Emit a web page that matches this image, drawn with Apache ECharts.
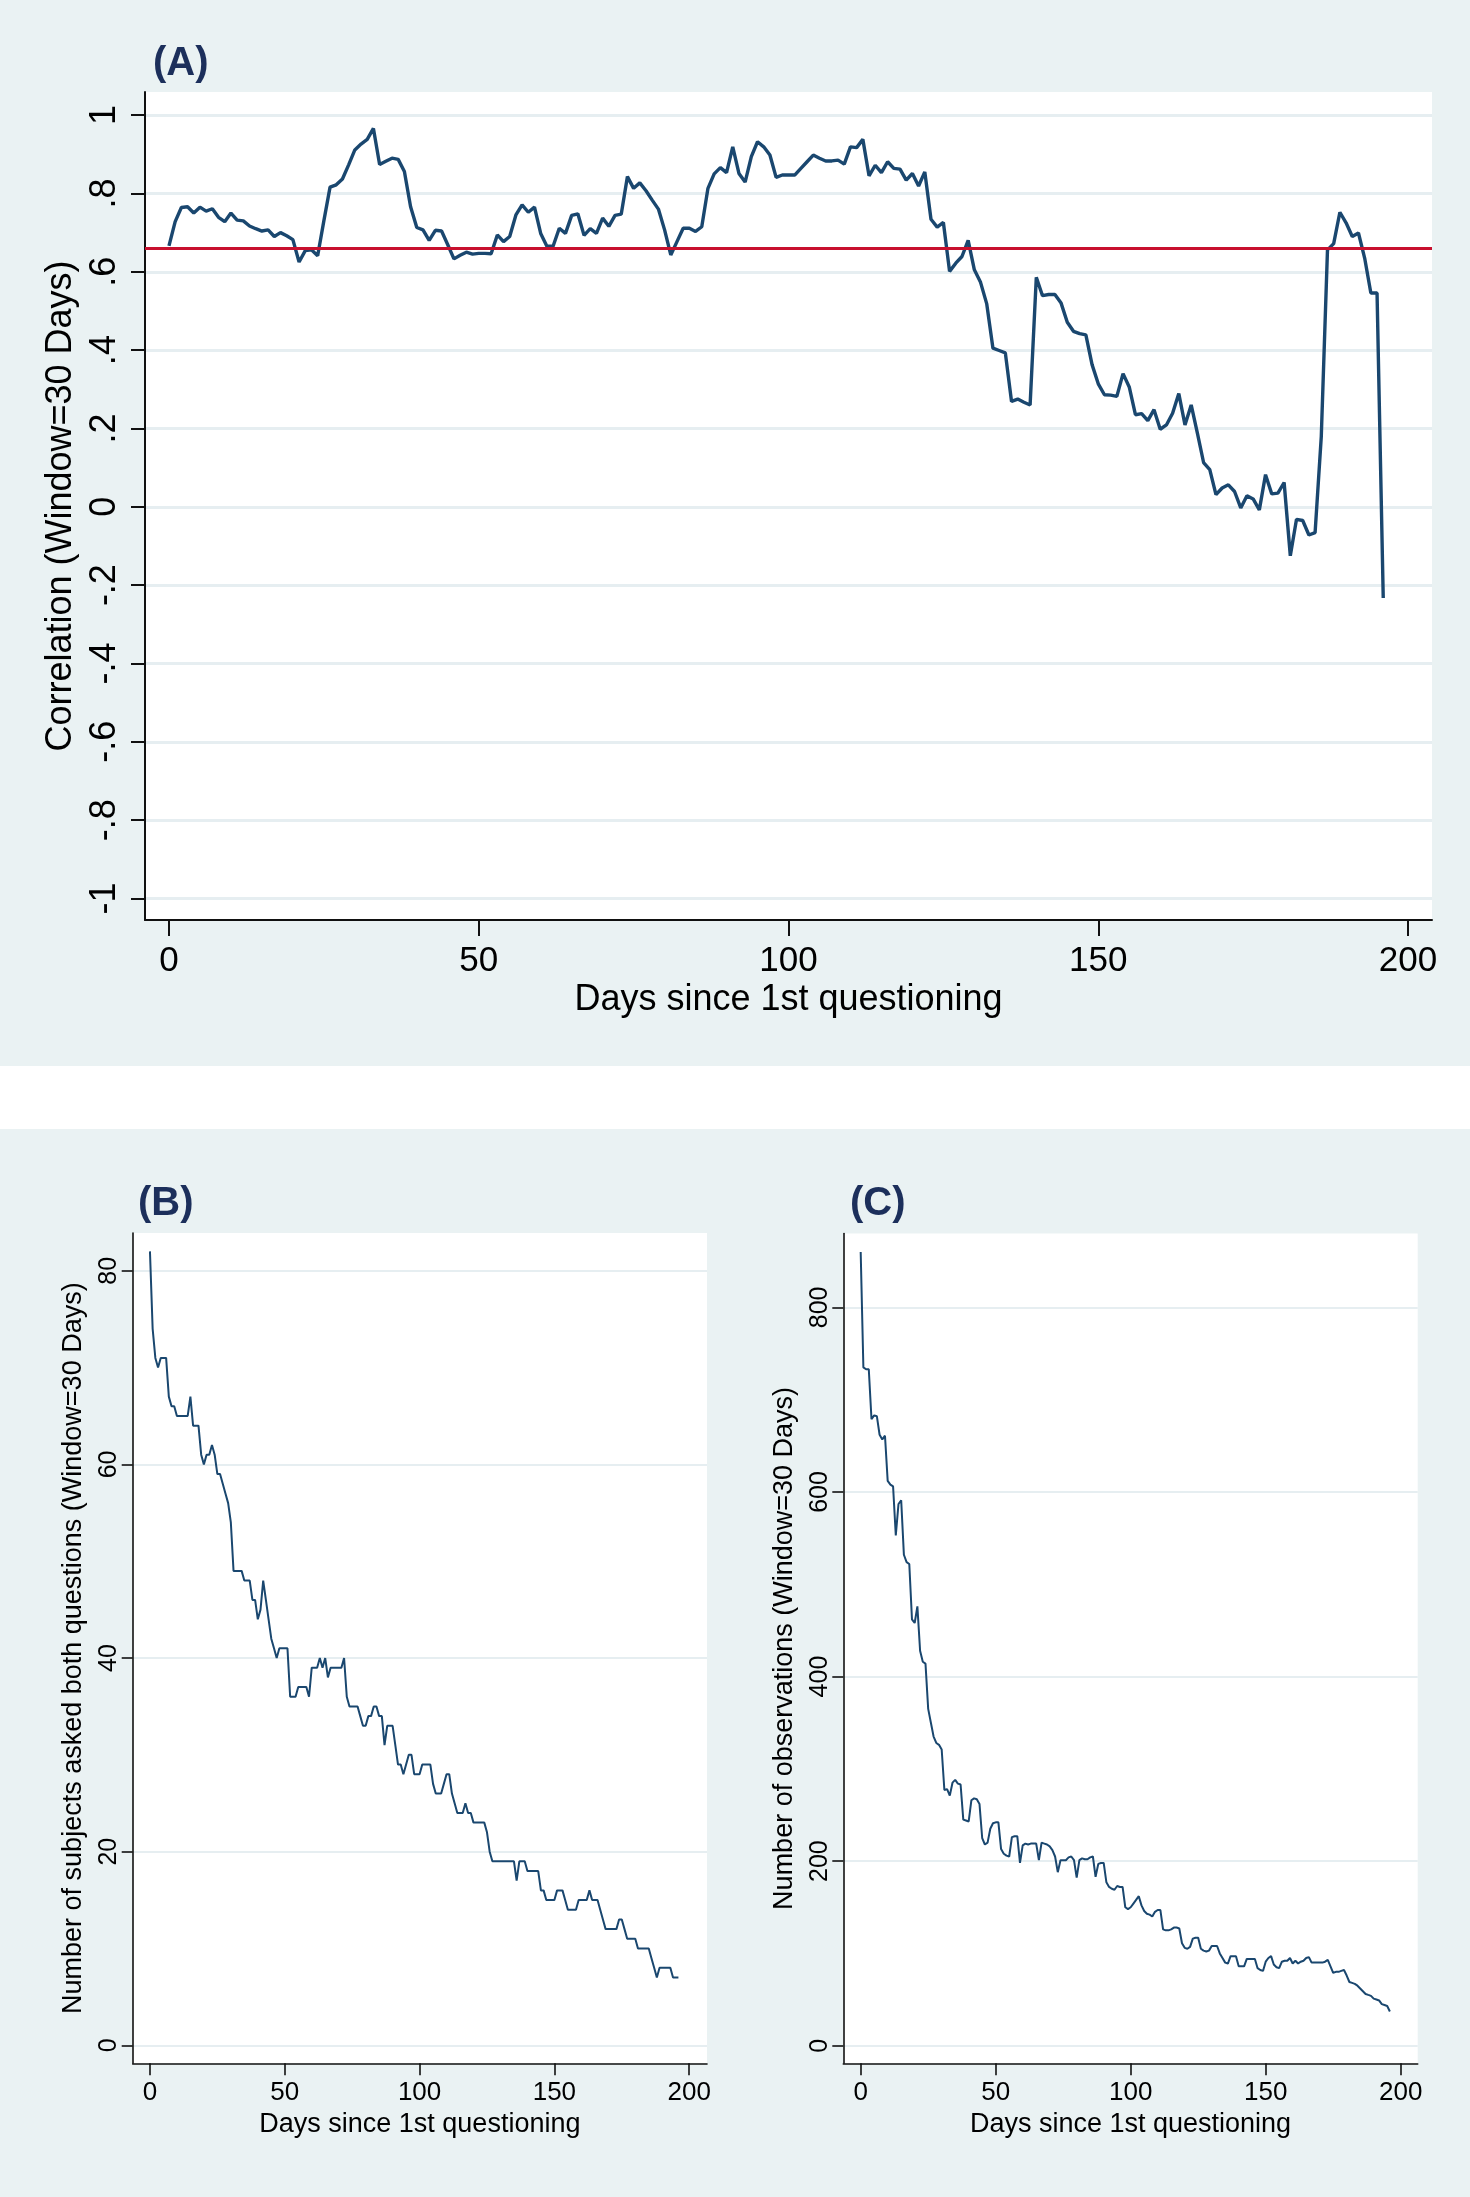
<!DOCTYPE html>
<html>
<head>
<meta charset="utf-8">
<script src="https://cdn.jsdelivr.net/npm/echarts@6/dist/echarts.min.js"></script>
<style>
html,body{margin:0;padding:0;background:#fff;}
#chart{width:1470px;height:2197px;}
</style>
</head>
<body>
<div id="chart"></div>
<script>
// ---------- DATA ----------
// Panel A: rolling correlation (window = 30 days), day 0..196
const corrA = [
0.666,0.728,0.764,0.766,0.750,0.765,0.755,0.761,0.739,0.728,
0.750,0.732,0.730,0.717,0.710,0.704,0.707,0.690,0.700,0.692,
0.682,0.625,0.654,0.656,0.641,0.730,0.816,0.822,0.837,0.873,
0.911,0.926,0.938,0.966,0.874,0.882,0.890,0.887,0.856,0.766,
0.713,0.707,0.680,0.706,0.704,0.669,0.633,0.642,0.650,0.645,
0.647,0.647,0.646,0.694,0.677,0.690,0.745,0.771,0.752,0.765,
0.698,0.665,0.665,0.711,0.698,0.744,0.748,0.693,0.710,0.698,
0.737,0.716,0.744,0.747,0.843,0.813,0.827,0.807,0.783,0.760,
0.707,0.643,0.677,0.711,0.711,0.703,0.715,0.813,0.850,0.866,
0.853,0.919,0.851,0.829,0.894,0.932,0.919,0.898,0.841,0.847,
0.847,0.847,0.864,0.881,0.898,0.890,0.883,0.883,0.885,0.875,
0.919,0.917,0.938,0.845,0.872,0.853,0.881,0.864,0.862,0.834,
0.851,0.819,0.855,0.734,0.714,0.726,0.601,0.622,0.639,0.680,
0.605,0.573,0.518,0.405,0.399,0.393,0.269,0.275,0.267,0.260,
0.586,0.539,0.542,0.542,0.520,0.471,0.448,0.442,0.439,0.363,
0.314,0.286,0.285,0.282,0.340,0.306,0.235,0.238,0.220,0.248,
0.198,0.209,0.239,0.289,0.209,0.260,0.188,0.113,0.095,0.031,
0.048,0.056,0.039,-0.003,0.028,0.020,-0.008,0.082,0.033,0.035,
0.062,-0.125,-0.032,-0.035,-0.072,-0.066,0.180,0.656,0.672,0.752,
0.725,0.690,0.699,0.635,0.546,0.546,-0.233
];
const overallCorr = 0.663;

// Panel B: number of subjects asked both questions (window = 30 days)
const subjectsB = [
82,74,71,70,71,71,71,67,66,66,
65,65,65,65,65,67,64,64,64,61,
60,61,61,62,61,59,59,58,57,56,
54,49,49,49,49,48,48,48,46,46,
44,45,48,46,44,42,41,40,41,41,
41,41,36,36,36,37,37,37,37,36,
39,39,39,40,39,40,38,39,39,39,
39,39,40,36,35,35,35,35,34,33,
33,34,34,35,35,34,34,31,33,33,
33,31,29,29,28,29,30,30,28,28,
28,29,29,29,29,27,26,26,26,27,
28,28,26,25,24,24,24,25,24,24,
23,23,23,23,23,22,20,19,19,19,
19,19,19,19,19,19,17,19,19,19,
18,18,18,18,18,16,16,15,15,15,
15,16,16,16,15,14,14,14,14,15,
15,15,15,16,15,15,15,14,13,12,
12,12,12,12,13,13,12,11,11,11,
11,10,10,10,10,10,9,8,7,8,
8,8,8,8,7,7,7
];

// Panel C: number of observations (window = 30 days)
const observationsC = [
860,735,733,733,679,683,682,662,657,661,
612,608,606,553,587,591,532,524,522,462,
458,476,428,416,414,365,350,335,328,326,
321,277,278,271,285,288,284,283,245,244,
243,266,268,267,262,225,218,220,235,241,
242,242,213,208,206,205,226,227,227,198,
217,219,218,219,219,219,201,220,219,218,
216,212,205,188,201,201,201,204,205,201,
182,201,203,202,202,204,205,183,197,198,
198,177,172,170,169,173,172,172,150,148,
150,154,158,162,152,146,143,142,140,145,
147,147,126,125,125,126,128,128,127,111,
106,105,107,116,117,117,105,103,102,103,
108,108,108,100,95,90,89,97,97,97,
86,86,86,94,94,94,94,84,82,81,
91,95,97,88,85,84,91,92,92,95,
89,92,89,91,92,95,96,90,90,90,
90,90,91,93,86,79,80,80,81,82,
76,69,68,67,65,62,59,56,55,54,
51,50,49,45,44,43,37
];

// Tick values
const xTicks = [0, 50, 100, 150, 200];
const yTicksA = [-1, -0.8, -0.6, -0.4, -0.2, 0, 0.2, 0.4, 0.6, 0.8, 1];
const yTicksB = [0, 20, 40, 60, 80];
const yTicksC = [0, 200, 400, 600, 800];

const xTitle = 'Days since 1st questioning';
const yTitleA = 'Correlation (Window=30 Days)';
const yTitleB = 'Number of subjects asked both questions (Window=30 Days)';
const yTitleC = 'Number of observations (Window=30 Days)';
const panelLabels = ['(A)', '(B)', '(C)'];

// ---------- BUILD ----------
const toPairs = arr => arr.map((v, i) => [i, v]);
const FONT = '"Liberation Sans", Arial, Helvetica, sans-serif';
const NAVY = '#1a476f';
const BG = '#eaf2f3';
const GRIDC = '#e6eef1';

function stataFmt(v) {
  const r = Math.round(v * 10) / 10;
  let s = String(r);
  s = s.replace(/^0\./, '.').replace(/^-0\./, '-.');
  return s;
}

function xAxisCfg(gi, min, max, big) {
  return {
    gridIndex: gi, type: 'value', min: min, max: max,
    axisLine: {show: true, onZero: false, lineStyle: {color: '#111', width: big ? 2 : 1.6}},
    axisTick: {show: true, customValues: xTicks, length: big ? 16 : 12, lineStyle: {color: '#111', width: big ? 2 : 1.6}},
    axisLabel: {customValues: xTicks, fontSize: big ? 35 : 26, color: '#000', fontFamily: FONT, margin: big ? 24 : 17},
    splitLine: {show: false},
    name: xTitle, nameLocation: 'middle', nameGap: big ? 62 : 48,
    nameTextStyle: {fontSize: big ? 36 : 27, color: '#000', fontFamily: FONT}
  };
}

function yAxisCfg(gi, min, max, ticks, title, big, fmt, nameGap, margin) {
  return {
    gridIndex: gi, type: 'value', min: min, max: max,
    axisLine: {show: true, onZero: false, lineStyle: {color: '#111', width: big ? 2 : 1.6}},
    axisTick: {show: true, customValues: ticks, length: big ? 14 : 11, lineStyle: {color: '#111', width: big ? 2 : 1.6}},
    axisLabel: {customValues: ticks, rotate: 90, fontSize: big ? 36 : 25, color: '#000', fontFamily: FONT,
      margin: margin, formatter: fmt},
    splitLine: {show: true, lineStyle: {color: GRIDC, width: big ? 3 : 2}},
    name: title, nameLocation: 'middle', nameGap: nameGap,
    nameTextStyle: {fontSize: big ? 36 : 27, color: '#000', fontFamily: FONT}
  };
}

const chart = echarts.init(document.getElementById('chart'), null, {renderer: 'canvas'});

const option = {
  backgroundColor: '#ffffff',
  animation: false,
  graphic: [
    {type: 'rect', z: -100, silent: true, shape: {x: 0, y: 0, width: 1470, height: 1066}, style: {fill: BG}},
    {type: 'rect', z: -100, silent: true, shape: {x: 0, y: 1129, width: 1470, height: 1068}, style: {fill: BG}},
    {type: 'text', left: 153, top: 44, style: {text: panelLabels[0], font: 'bold 40px ' + FONT, fill: '#1c2f5b'}},
    {type: 'text', left: 138, top: 1184, style: {text: panelLabels[1], font: 'bold 40px ' + FONT, fill: '#1c2f5b'}},
    {type: 'text', left: 850, top: 1184, style: {text: panelLabels[2], font: 'bold 40px ' + FONT, fill: '#1c2f5b'}}
  ],
  grid: [
    {left: 145, top: 92, width: 1287, height: 828, show: true, backgroundColor: '#fff', borderWidth: 0, containLabel: false},
    {left: 132.7, top: 1233, width: 574.3, height: 830.3, show: true, backgroundColor: '#fff', borderWidth: 0, containLabel: false},
    {left: 843.3, top: 1233.5, width: 574.4, height: 829.8, show: true, backgroundColor: '#fff', borderWidth: 0, containLabel: false}
  ],
  xAxis: [
    xAxisCfg(0, -3.87, 203.87, true),
    xAxisCfg(1, -6.4, 206.6, false),
    xAxisCfg(2, -6.44, 206.3, false)
  ],
  yAxis: [
    yAxisCfg(0, -1.055, 1.059, yTicksA, yTitleA, true, stataFmt, 61, 22),
    yAxisCfg(1, -1.86, 83.9, yTicksB, yTitleB, false, v => String(Math.round(v)), 46, 11),
    yAxisCfg(2, -19.1, 880.1, yTicksC, yTitleC, false, v => String(Math.round(v)), 45, 11)
  ],
  series: [
    {
      type: 'line', xAxisIndex: 0, yAxisIndex: 0, data: toPairs(corrA),
      showSymbol: false, symbol: 'none', lineStyle: {color: NAVY, width: 3.4}, itemStyle: {color: NAVY},
      markLine: {
        silent: true, symbol: ['none', 'none'], label: {show: false}, animation: false,
        lineStyle: {color: '#c8102e', width: 3, type: 'solid'},
        data: [{yAxis: overallCorr}]
      }
    },
    {
      type: 'line', xAxisIndex: 1, yAxisIndex: 1, data: toPairs(subjectsB),
      showSymbol: false, symbol: 'none', lineStyle: {color: NAVY, width: 2}, itemStyle: {color: NAVY}
    },
    {
      type: 'line', xAxisIndex: 2, yAxisIndex: 2, data: toPairs(observationsC),
      showSymbol: false, symbol: 'none', lineStyle: {color: NAVY, width: 2}, itemStyle: {color: NAVY}
    }
  ]
};
chart.setOption(option);
</script>
</body>
</html>
